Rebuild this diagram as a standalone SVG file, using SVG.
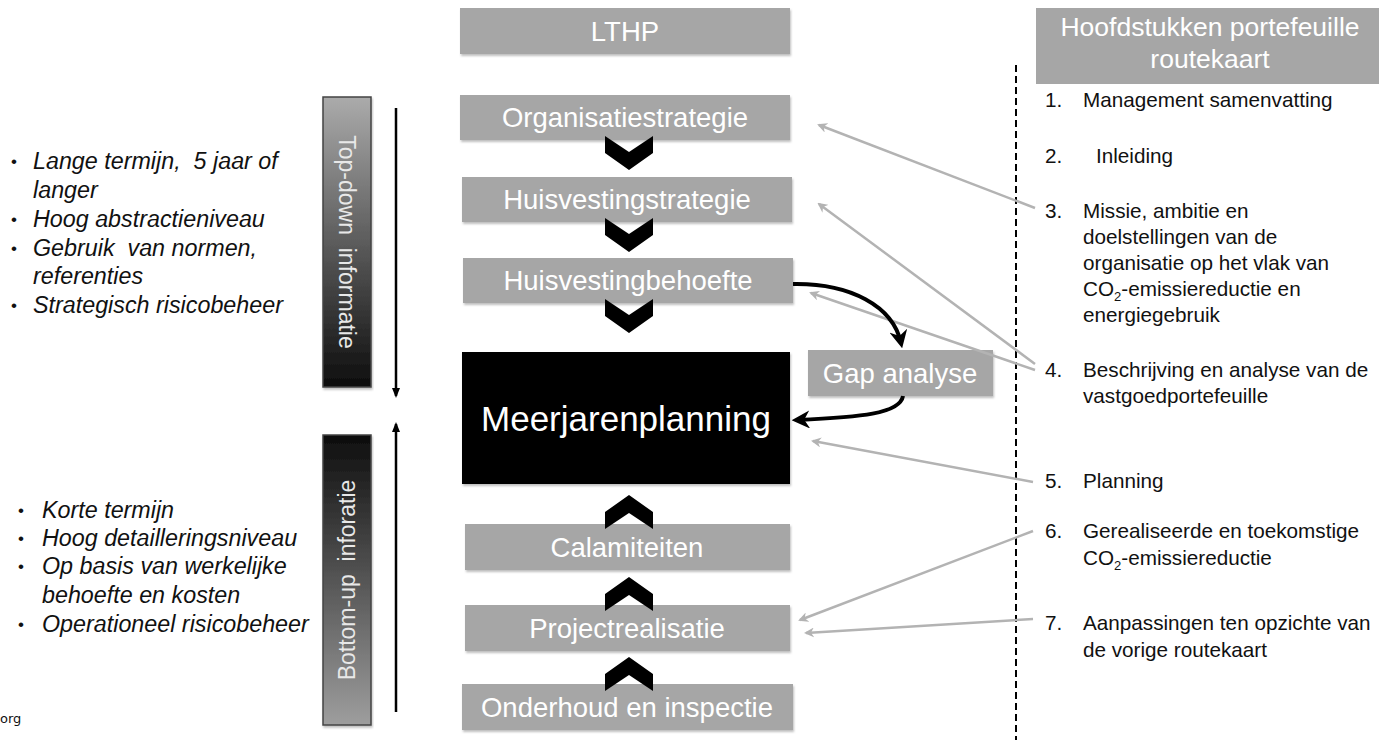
<svg xmlns="http://www.w3.org/2000/svg" width="1379" height="740" viewBox="0 0 1379 740">
<style>
  .box{fill:#a6a6a6;filter:url(#sh);}
  .lbl{font-family:"Liberation Sans",Arial,sans-serif;font-size:27.5px;fill:#ffffff;text-anchor:middle;}
  .hdr{font-family:"Liberation Sans",Arial,sans-serif;font-size:26.5px;fill:#ffffff;text-anchor:middle;}
  .chev{fill:#000000;}
  .bul{font-family:"Liberation Sans",Arial,sans-serif;font-size:23.3px;font-style:italic;fill:#111;white-space:pre;}
  .dot{font-family:"Liberation Sans",Arial,sans-serif;font-size:17px;fill:#111;}
  .lst{font-family:"Liberation Sans",Arial,sans-serif;font-size:20.7px;fill:#111;white-space:pre;}
  .vt{font-family:"Liberation Sans",Arial,sans-serif;font-size:23px;fill:#e8e8e8;text-anchor:middle;white-space:pre;}
  .gc{stroke:#b3b3b3;stroke-width:2.5;fill:none;marker-end:url(#ga);}
  .bc{stroke:#000;stroke-width:4;fill:none;marker-end:url(#ba);}
  .vl{stroke:#000;stroke-width:2.5;fill:none;marker-end:url(#va);}
</style>
<defs>
  <filter id="sh" x="-5%" y="-10%" width="110%" height="130%">
    <feDropShadow dx="1" dy="2" stdDeviation="1.2" flood-color="#000" flood-opacity="0.25"/>
  </filter>
  <linearGradient id="gTop" x1="0" y1="0" x2="0" y2="1">
    <stop offset="0" stop-color="#ababab"/>
    <stop offset="1" stop-color="#0d0d0d"/>
  </linearGradient>
  <linearGradient id="gBot" x1="0" y1="0" x2="0" y2="1">
    <stop offset="0" stop-color="#0d0d0d"/>
    <stop offset="1" stop-color="#9e9e9e"/>
  </linearGradient>
  <marker id="ga" viewBox="0 0 10 10" refX="8" refY="5" markerWidth="4" markerHeight="4" orient="auto">
    <path d="M0,0 L10,5 L0,10 L3,5 Z" fill="#b3b3b3"/>
  </marker>
  <marker id="ba" viewBox="0 0 10 10" refX="7" refY="5" markerWidth="4.5" markerHeight="4.5" orient="auto">
    <path d="M0,0 L10,5 L0,10 L3,5 Z" fill="#000"/>
  </marker>
  <marker id="va" viewBox="0 0 10 10" refX="8" refY="5" markerWidth="4" markerHeight="4" orient="auto">
    <path d="M0,1 L10,5 L0,9 Z" fill="#000"/>
  </marker>
</defs>
<rect width="1379" height="740" fill="#ffffff"/>

<!-- left bullet texts -->
<g id="top-bullets">
  <text class="dot" x="11" y="167">•</text>
  <text class="bul" x="33" y="169">Lange termijn,  5 jaar of</text>
  <text class="bul" x="33" y="198">langer</text>
  <text class="dot" x="11" y="225">•</text>
  <text class="bul" x="33" y="227">Hoog abstractieniveau</text>
  <text class="dot" x="11" y="254">•</text>
  <text class="bul" x="33" y="256">Gebruik  van normen,</text>
  <text class="bul" x="33" y="284">referenties</text>
  <text class="dot" x="11" y="311">•</text>
  <text class="bul" x="33" y="313">Strategisch risicobeheer</text>
</g>
<g id="bottom-bullets">
  <text class="dot" x="18" y="516">•</text>
  <text class="bul" x="42" y="518">Korte termijn</text>
  <text class="dot" x="18" y="544">•</text>
  <text class="bul" x="42" y="546">Hoog detailleringsniveau</text>
  <text class="dot" x="18" y="572">•</text>
  <text class="bul" x="42" y="574">Op basis van werkelijke</text>
  <text class="bul" x="42" y="603">behoefte en kosten</text>
  <text class="dot" x="18" y="630">•</text>
  <text class="bul" x="42" y="632">Operationeel risicobeheer</text>
</g>
<text x="0" y="723" font-family="DejaVu Sans, sans-serif" font-size="13" fill="#111">org</text>

<!-- vertical bars -->
<g id="top-down">
  <rect x="323" y="97" width="48" height="290" fill="url(#gTop)" stroke="#444" stroke-width="1.5" filter="url(#sh)"/>
  <text class="vt" transform="translate(339,242) rotate(90)">Top-down  informatie</text>
</g>
<g id="bottom-up">
  <rect x="323" y="435" width="48" height="290" fill="url(#gBot)" stroke="#444" stroke-width="1.5" filter="url(#sh)"/>
  <text class="vt" transform="translate(355,580) rotate(-90)">Bottom-up  inforatie</text>
</g>

<!-- central column -->
<g id="lthp"><rect class="box" x="460" y="8" width="330" height="46"/><text class="lbl" x="625" y="41">LTHP</text></g>
<g id="organisatiestrategie"><rect class="box" x="460" y="95" width="330" height="45"/><text class="lbl" x="625" y="127">Organisatiestrategie</text></g>
<g id="huisvestingstrategie"><rect class="box" x="462" y="177" width="330" height="45"/><text class="lbl" x="627" y="209">Huisvestingstrategie</text></g>
<g id="huisvestingbehoefte"><rect class="box" x="463" y="258" width="330" height="45"/><text class="lbl" x="628" y="290">Huisvestingbehoefte</text></g>
<g id="meerjarenplanning"><rect x="462" y="352" width="328" height="132" fill="#000" filter="url(#sh)"/><text x="626" y="431" font-family="Liberation Sans, Arial, sans-serif" font-size="35" fill="#fff" text-anchor="middle">Meerjarenplanning</text></g>
<g id="gap-analyse"><rect class="box" x="808" y="350" width="185" height="46"/><text class="lbl" x="900" y="383">Gap analyse</text></g>
<g id="calamiteiten"><rect class="box" x="465" y="524" width="325" height="46"/><text class="lbl" x="627" y="557">Calamiteiten</text></g>
<g id="projectrealisatie"><rect class="box" x="465" y="605" width="325" height="46"/><text class="lbl" x="627" y="638">Projectrealisatie</text></g>
<g id="onderhoud"><rect class="box" x="462" y="684" width="331" height="46"/><text class="lbl" x="627" y="717">Onderhoud en inspectie</text></g>

<!-- chevrons -->
<g id="chevrons">
  <polygon class="chev" points="605,136 629,152 653,136 653,153 629,170 605,153"/>
  <polygon class="chev" points="605,218 629,234 653,218 653,235 629,252 605,235"/>
  <polygon class="chev" points="605,299 629,315 653,299 653,316 629,333 605,316"/>
  <polygon class="chev" points="605,529 629,513 653,529 653,512 629,495 605,512"/>
  <polygon class="chev" points="605,611 629,595 653,611 653,594 629,577 605,594"/>
  <polygon class="chev" points="605,691 629,675 653,691 653,674 629,657 605,674"/>
</g>

<!-- right header and list -->
<g id="header"><rect x="1036" y="8" width="343" height="76" fill="#a6a6a6"/>
  <text class="hdr" x="1210" y="36">Hoofdstukken portefeuille</text>
  <text class="hdr" x="1210" y="68">routekaart</text>
</g>
<g id="list">
  <text class="lst" x="1045" y="107">1.</text><text class="lst" x="1083" y="107">Management samenvatting</text>
  <text class="lst" x="1045" y="163">2.</text><text class="lst" x="1096" y="163">Inleiding</text>
  <text class="lst" x="1045" y="218">3.</text><text class="lst" x="1083" y="218">Missie, ambitie en</text>
  <text class="lst" x="1083" y="244">doelstellingen van de</text>
  <text class="lst" x="1083" y="270">organisatie op het vlak van</text>
  <text class="lst" x="1083" y="296">CO<tspan font-size="13" dy="5">2</tspan><tspan dy="-5">-emissiereductie en</tspan></text>
  <text class="lst" x="1083" y="322">energiegebruik</text>
  <text class="lst" x="1045" y="377">4.</text><text class="lst" x="1083" y="377">Beschrijving en analyse van de</text>
  <text class="lst" x="1083" y="403">vastgoedportefeuille</text>
  <text class="lst" x="1045" y="488">5.</text><text class="lst" x="1083" y="488">Planning</text>
  <text class="lst" x="1045" y="538">6.</text><text class="lst" x="1083" y="538">Gerealiseerde en toekomstige</text>
  <text class="lst" x="1083" y="565">CO<tspan font-size="13" dy="5">2</tspan><tspan dy="-5">-emissiereductie</tspan></text>
  <text class="lst" x="1045" y="630">7.</text><text class="lst" x="1083" y="630">Aanpassingen ten opzichte van</text>
  <text class="lst" x="1083" y="657">de vorige routekaart</text>
</g>

<!-- connectors -->
<g id="connectors">
  <line x1="1016" y1="65" x2="1016" y2="740" stroke="#000" stroke-width="2" stroke-dasharray="7,4"/>
  <line class="vl" x1="396" y1="108" x2="396" y2="396"/>
  <line class="vl" x1="396" y1="712" x2="396" y2="424"/>
  <path class="gc" d="M1035,208 L819,125"/>
  <path class="gc" d="M1035,364 L819,204"/>
  <path class="gc" d="M1035,370 L811,293"/>
  <path class="gc" d="M1033,482 L813,441"/>
  <path class="gc" d="M1033,531 L800,620"/>
  <path class="gc" d="M1033,619 L806,633"/>
  <path class="bc" d="M793,284 C850,283 893,306 901,343"/>
  <path class="bc" d="M903,396 C900,414 860,417 797,420"/>
</g>
</svg>
